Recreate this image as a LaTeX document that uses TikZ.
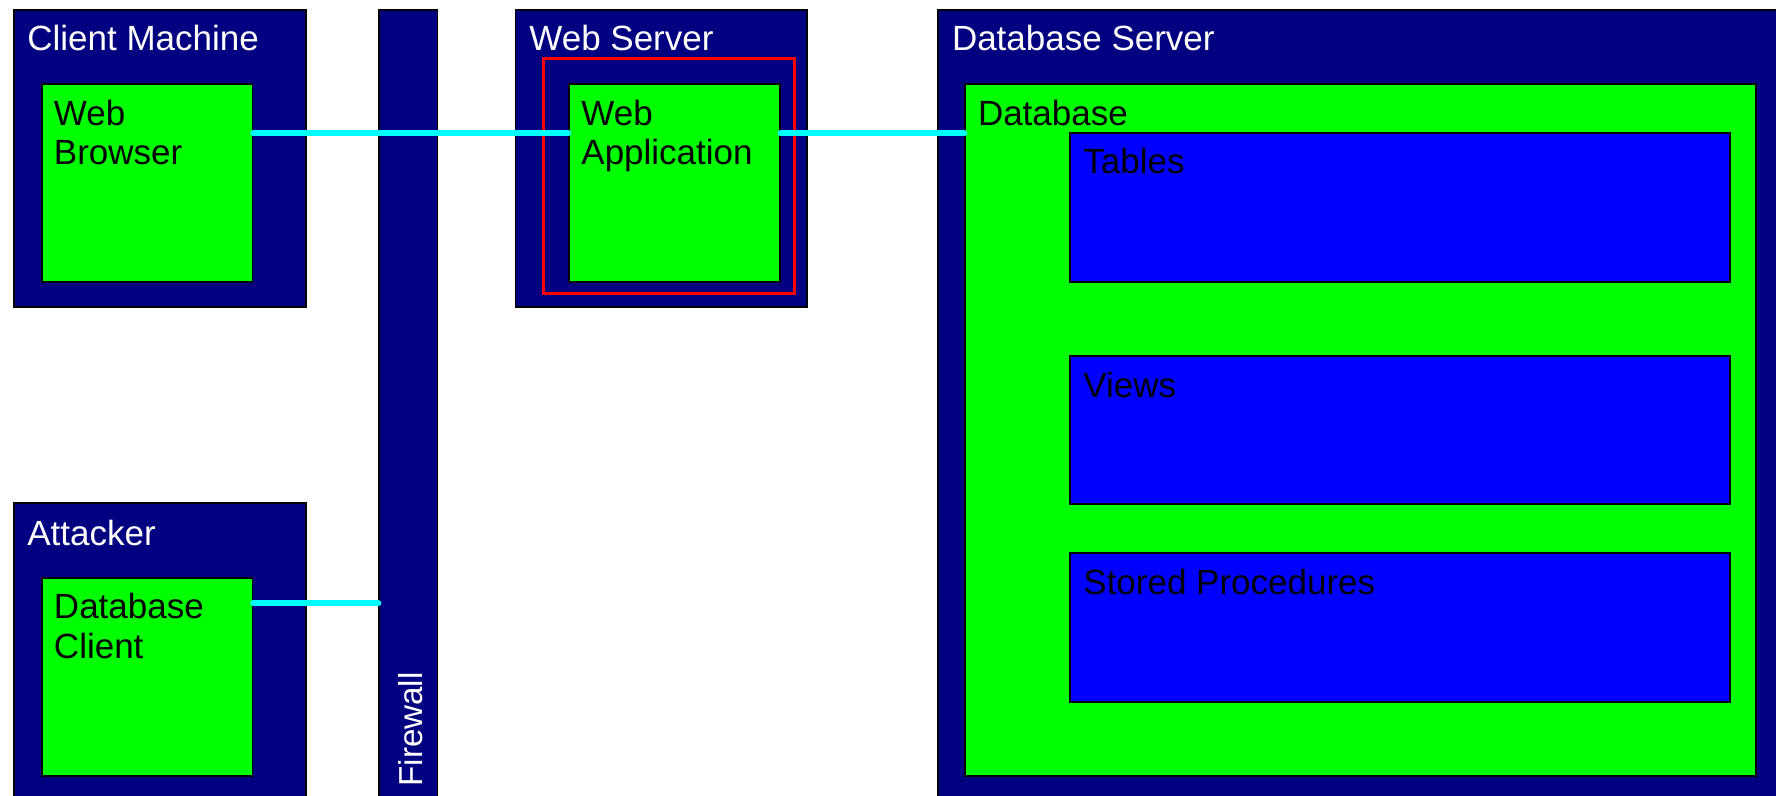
\documentclass[tikz,border=0pt]{standalone}
\usepackage{fontspec}
\setmainfont{Liberation Sans}
\usetikzlibrary{fit}
\definecolor{hostnavy}{HTML}{000080}
\definecolor{appgreen}{HTML}{00FF00}
\definecolor{objblue}{HTML}{0000FF}
\definecolor{linkcyan}{HTML}{00FFFF}
\definecolor{markred}{HTML}{FF0000}

\begin{document}
\begin{tikzpicture}[x=0.5pt,y=-0.5pt,
  panel/.style={draw=black, line width=0.6pt, inner sep=0pt, fit={#1}},
  host/.style={panel={#1}, fill=hostnavy},
  app/.style={panel={#1}, fill=appgreen},
  dbobj/.style={panel={#1}, fill=objblue},
  highlight/.style={draw=markred, line width=1.5pt, inner sep=0pt, fit={#1}},
  txt/.style={inner sep=0pt, anchor=base west, font=\fontsize{17.5}{19.5}\selectfont},
  hosttxt/.style={txt, text=white},
  wire/.style={draw=linkcyan, line width=3pt, line cap=round}]

% page frame
\useasboundingbox (0,0) rectangle (1776,796);
\clip (0,0) rectangle (1776,796);
\fill[white] (0,0) rectangle (1776,796);

% hosts
\node[host={(14,10) (306,307)}] (client) {};
\node[host={(14,503) (306,815)}] (attacker) {};
\node[host={(379,10) (437.5,815)}] (firewall) {};
\node[host={(515.7,10) (807,307)}] (websrv) {};
\node[host={(938,10) (1795,815)}] (dbsrv) {};

% applications
\node[app={(42,84) (252.6,282)}] (browser) {};
\node[app={(42,578) (252.6,776)}] (dbclient) {};
\node[app={(569,84) (780,282)}] (webapp) {};
\node[app={(965,84) (1756,776)}] (dbase) {};
\node[highlight={(543,59) (794,294)}] (focus) {};

% database objects
\node[dbobj={(1070,133) (1730,282)}] (tables) {};
\node[dbobj={(1070,356) (1730,504)}] (views) {};
\node[dbobj={(1070,553) (1730,702)}] (procs) {};

% labels
\node[hosttxt] (clientT) at (27,51) {Client Machine};
\node[hosttxt] (attackerT) at (27,545) {Attacker};
\node[hosttxt] (websrvT) at (529,51) {Web Server};
\node[hosttxt] (dbsrvT) at (951.6,51) {Database Server};
\node[hosttxt, rotate=90, font=\fontsize{16.6}{19}\selectfont] (firewallT) at (422,787) {Firewall};

\node[txt] (browserT1) at (53.6,126) {Web};
\node[txt] (browserT2) at (53.6,165) {Browser};
\node[txt] (dbclientT1) at (53.6,618) {Database};
\node[txt] (dbclientT2) at (53.6,658) {Client};
\node[txt] (webappT1) at (581,126) {Web};
\node[txt] (webappT2) at (581,165) {Application};
\node[txt] (dbaseT) at (977.6,126) {Database};

\node[txt] (tablesT) at (1083,174) {Tables};
\node[txt] (viewsT) at (1083,397) {Views};
\node[txt] (procsT) at (1083,594) {Stored Procedures};

% connections
\coordinate (w1) at ([yshift=-25pt]browser.north east);
\draw[wire] (w1) -- (w1 -| webapp.west);
\coordinate (w2) at ([yshift=-25pt]webapp.north east);
\draw[wire] (w2) -- (w2 -| dbase.west);
\coordinate (w3) at ([yshift=-13pt]dbclient.north east);
\draw[wire] (w3) -- (w3 -| firewall.west);
\end{tikzpicture}
\end{document}
